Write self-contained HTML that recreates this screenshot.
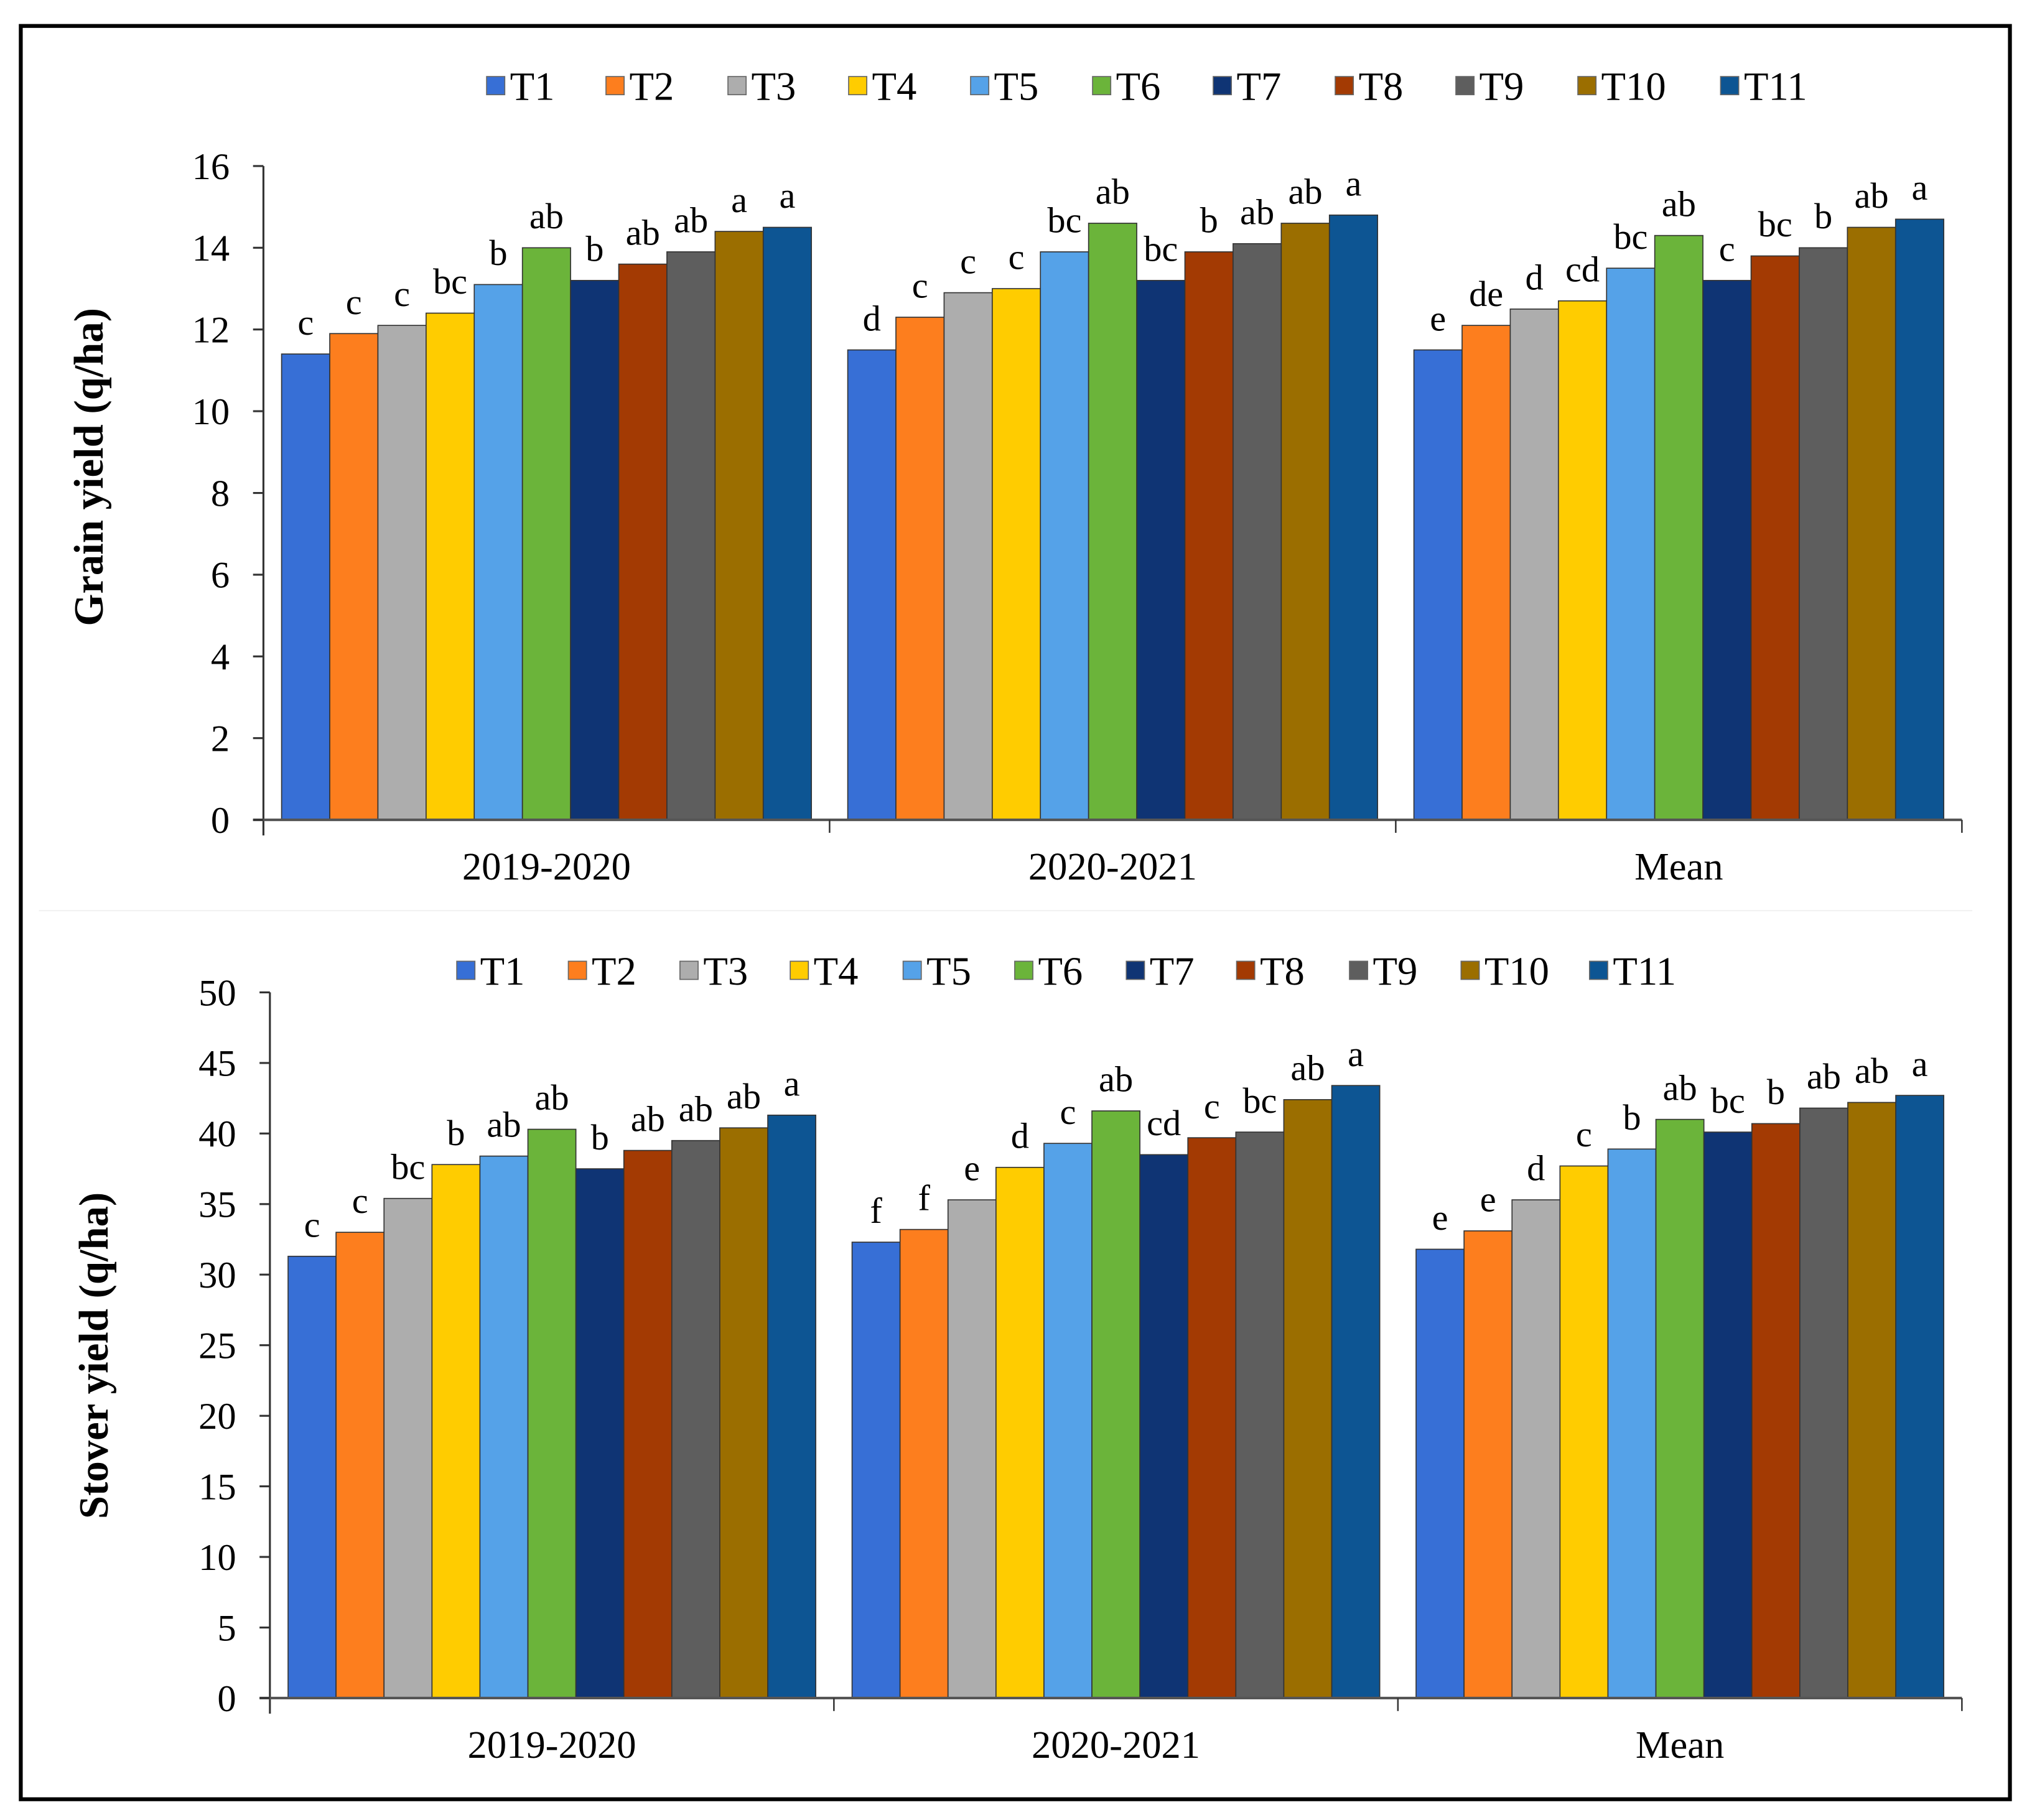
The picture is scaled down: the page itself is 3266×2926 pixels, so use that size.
<!DOCTYPE html>
<html><head><meta charset="utf-8"><style>
html,body{margin:0;padding:0;background:#fff;}
svg{display:block;font-family:"Liberation Serif",serif;}
</style></head><body>
<svg id="fig" width="3266" height="2926" viewBox="0 0 1566 1403" xmlns="http://www.w3.org/2000/svg">
<rect x="16" y="20" width="1533" height="1367" fill="#fff" stroke="#000" stroke-width="3"/>
<line x1="30" y1="702" x2="1520" y2="702" stroke="#f2f2f2" stroke-width="1"/>
<g id="top"></g>
<g id="bottom"></g>
</svg>
<script>
const treatments = ["T1","T2","T3","T4","T5","T6","T7","T8","T9","T10","T11"];
const groups = ["2019-2020","2020-2021","Mean"];
const colors = ["#376fd6","#fd7e1e","#adadad","#ffcc00","#55a2e8","#6bb43a","#0f3474","#a33a03","#5e5e5e","#9b6e00","#0d5593"];
const grainTicks = [0,2,4,6,8,10,12,14,16];
const grain2019 = [11.4,11.9,12.1,12.4,13.1,14.0,13.2,13.6,13.9,14.4,14.5];
const grain2020 = [11.5,12.3,12.9,13.0,13.9,14.6,13.2,13.9,14.1,14.6,14.8];
const grainMean = [11.5,12.1,12.5,12.7,13.5,14.3,13.2,13.8,14.0,14.5,14.7];
const grainLet2019 = ["c","c","c","bc","b","ab","b","ab","ab","a","a"];
const grainLet2020 = ["d","c","c","c","bc","ab","bc","b","ab","ab","a"];
const grainLetMean = ["e","de","d","cd","bc","ab","c","bc","b","ab","a"];
const stoverTicks = [0,5,10,15,20,25,30,35,40,45,50];
const stover2019 = [31.3,33.0,35.4,37.8,38.4,40.3,37.5,38.8,39.5,40.4,41.3];
const stover2020 = [32.3,33.2,35.3,37.6,39.3,41.6,38.5,39.7,40.1,42.4,43.4];
const stoverMean = [31.8,33.1,35.3,37.7,38.9,41.0,40.1,40.7,41.8,42.2,42.7];
const stoverLet2019 = ["c","c","bc","b","ab","ab","b","ab","ab","ab","a"];
const stoverLet2020 = ["f","f","e","d","c","ab","cd","c","bc","ab","a"];
const stoverLetMean = ["e","e","d","c","b","ab","bc","b","ab","ab","a"];

const NS="http://www.w3.org/2000/svg";
function mk(parent,tag,attrs,text){const e=document.createElementNS(NS,tag);for(const k in attrs)e.setAttribute(k,attrs[k]);if(text!==undefined)e.textContent=text;parent.appendChild(e);return e;}

function draw(g,cfg){
  const yScale=v=>cfg.y0-(v-cfg.min)/(cfg.max-cfg.min)*(cfg.y0-cfg.y1);
  const gw=(cfg.x1-cfg.ax)/groups.length;
  treatments.forEach((t,i)=>{
    const lx=cfg.legX[i];
    const s=mk(g,'rect',{x:lx,y:cfg.legY-7,width:14,height:14,fill:colors[i],stroke:'#666','stroke-width':0.8});
    
    
    const tx=mk(g,'text',{x:lx+18,y:cfg.legY+11,'font-size':31},t);
    
    
  });
  const bw=(gw-cfg.pad*2)/treatments.length;
  cfg.series.forEach((vals,gi)=>{
    vals.forEach((v,i)=>{
      const x=cfg.ax+gi*gw+cfg.pad+i*bw;
      const y=yScale(v);
      const r=mk(g,'rect',{x:x,y:y,width:bw,height:cfg.y0-y,fill:colors[i],stroke:'#333','stroke-width':0.8});
      
      
      const l=mk(g,'text',{x:x+bw/2,y:y-15,'font-size':28,'text-anchor':'middle'},cfg.letters[gi][i]);
      
      
    });
    const c=mk(g,'text',{x:cfg.ax+gi*gw+gw/2,y:cfg.y0+46,'font-size':30,'text-anchor':'middle'},groups[gi]);
    
    
  });
  const ya=mk(g,'line',{x1:cfg.ax,y1:cfg.y1,x2:cfg.ax,y2:cfg.y0+12,stroke:'#333','stroke-width':1.5});
  
  
  const xa=mk(g,'line',{x1:cfg.ax-8,y1:cfg.y0,x2:cfg.x1,y2:cfg.y0,stroke:'#555','stroke-width':2});
  
  
  for(let k=1;k<=groups.length;k++){
    const tk=mk(g,'line',{x1:cfg.ax+k*gw,y1:cfg.y0,x2:cfg.ax+k*gw,y2:cfg.y0+10,stroke:'#333','stroke-width':1.2});
    
    
  }
  cfg.ticks.forEach(t=>{
    const y=yScale(t);
    const tl=mk(g,'line',{x1:cfg.ax-8,y1:y,x2:cfg.ax,y2:y,stroke:'#333','stroke-width':1.5});
    
    
    const tt=mk(g,'text',{x:cfg.ax-26,y:y+10,'font-size':29,'text-anchor':'end'},String(t));
    
    
  });
  const ttl=mk(g,'text',{x:0,y:0,'font-size':32,'font-weight':'bold','text-anchor':'middle',transform:`translate(${cfg.titleX},${cfg.titleY}) rotate(-90)`},cfg.title);
  
  
}

draw(document.getElementById('top'),{
  ax:203,x1:1512,y0:632,y1:128,min:0,max:16,pad:14,ticks:grainTicks,
  series:[grain2019,grain2020,grainMean],letters:[grainLet2019,grainLet2020,grainLetMean],
  legY:66,legX:[375,467,561,654,748,842,935,1029,1122,1216,1326],
  title:"Grain yield (q/ha)",titleX:79,titleY:360
});
draw(document.getElementById('bottom'),{
  ax:208,x1:1512,y0:1309,y1:765,min:0,max:50,pad:14,ticks:stoverTicks,
  series:[stover2019,stover2020,stoverMean],letters:[stoverLet2019,stoverLet2020,stoverLetMean],
  legY:748,legX:[352,438,524,609,696,782,868,953,1040,1126,1225],
  title:"Stover yield (q/ha)",titleX:83,titleY:1045
});
</script>
</body></html>
